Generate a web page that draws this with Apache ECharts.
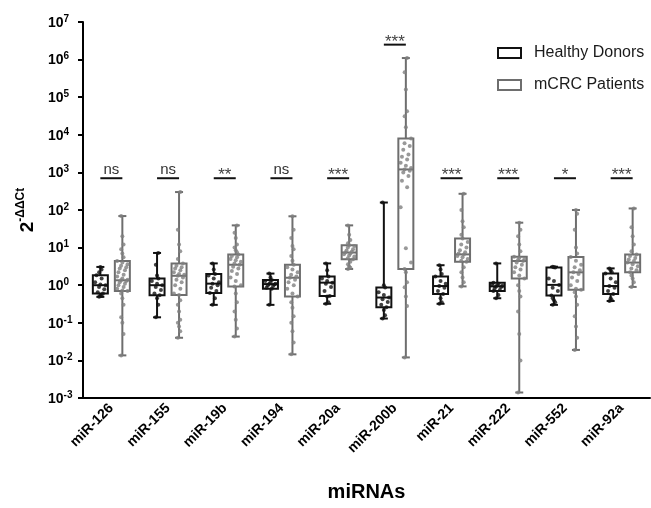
<!DOCTYPE html>
<html>
<head>
<meta charset="utf-8">
<script src="https://cdn.jsdelivr.net/npm/echarts@6/dist/echarts.min.js"></script>
<style>html,body{margin:0;padding:0;background:#fff}#c{width:651px;height:508px}</style>
</head>
<body>
<div id="c"></div>
<script>
const categories = ['miR-126','miR-155','miR-19b','miR-194','miR-20a','miR-200b','miR-21','miR-222','miR-552','miR-92a'];

// box stats per category: [min, Q1, median, Q3, max]
const healthyBox = [
  [0.49, 0.6, 1.0, 1.84, 3.06],
  [0.14, 0.54, 1.0, 1.5, 7.2],
  [0.3, 0.62, 1.1, 2.0, 3.8],
  [0.3, 0.8, 1.07, 1.38, 2.04],
  [0.32, 0.52, 1.17, 1.7, 3.8],
  [0.13, 0.26, 0.47, 0.87, 158],
  [0.32, 0.58, 0.95, 1.7, 3.4],
  [0.45, 0.7, 0.93, 1.17, 3.8],
  [0.3, 0.53, 1.02, 2.95, 3.1],
  [0.38, 0.58, 0.95, 2.04, 2.8]
];
const patientBox = [
  [0.0136, 0.7, 1.35, 4.4, 69],
  [0.04, 0.55, 1.78, 3.8, 300],
  [0.043, 0.93, 3.5, 6.6, 39],
  [0.0145, 0.5, 1.58, 3.5, 68],
  [2.7, 4.9, 7.4, 11.5, 39],
  [0.012, 2.7, 1200, 8000, 1.1e6],
  [0.93, 4.2, 6.6, 17.4, 270],
  [0.0014, 1.5, 4.4, 5.75, 46],
  [0.019, 0.76, 2.2, 5.6, 100],
  [0.9, 2.2, 4.0, 6.6, 110]
];

// individual points
const healthyPoints = [
  [0.49, 0.52, 0.55, 0.6, 0.65, 0.78, 0.9, 1.0, 1.05, 1.2, 1.5, 1.84, 2.2, 2.6, 3.06],
  [0.14, 0.3, 0.45, 0.54, 0.6, 0.75, 0.9, 1.0, 1.1, 1.3, 1.5, 1.8, 3.5, 7.2],
  [0.3, 0.45, 0.62, 0.7, 0.85, 1.0, 1.1, 1.2, 1.5, 1.8, 2.0, 2.6, 3.8],
  [0.3, 0.8, 0.85, 0.95, 1.0, 1.05, 1.07, 1.1, 1.2, 1.3, 1.38, 1.6, 2.04],
  [0.32, 0.35, 0.5, 0.52, 0.7, 0.9, 1.1, 1.17, 1.3, 1.5, 1.7, 2.5, 3.8],
  [0.13, 0.16, 0.22, 0.26, 0.3, 0.36, 0.42, 0.47, 0.55, 0.65, 0.87, 1.0, 158],
  [0.32, 0.35, 0.45, 0.58, 0.7, 0.85, 0.95, 1.1, 1.3, 1.7, 2.0, 2.6, 3.4],
  [0.45, 0.55, 0.7, 0.75, 0.82, 0.9, 0.93, 0.97, 1.0, 1.05, 1.1, 1.17, 3.8],
  [0.3, 0.35, 0.4, 0.45, 0.53, 0.7, 0.85, 1.02, 1.3, 1.5, 2.95, 3.0, 3.1],
  [0.38, 0.4, 0.45, 0.58, 0.7, 0.85, 0.95, 1.2, 1.5, 2.04, 2.2, 2.5, 2.8]
];
const patientPoints = [
  [0.0136, 0.05, 0.1, 0.14, 0.3, 0.45, 0.6, 0.7, 0.72, 0.8, 0.9, 1.0, 1.1, 1.2, 1.3, 1.35, 1.4, 1.5, 1.7, 1.9, 2.2, 2.5, 2.8, 3.0, 3.3, 3.6, 4.0, 4.4, 5.5, 7, 9, 12, 20, 69],
  [0.04, 0.06, 0.08, 0.1, 0.12, 0.2, 0.3, 0.4, 0.55, 0.6, 0.8, 1.0, 1.2, 1.4, 1.6, 1.78, 1.9, 2.0, 2.2, 2.5, 2.8, 3.0, 3.3, 3.8, 5, 8, 12, 30, 300],
  [0.043, 0.07, 0.12, 0.2, 0.35, 0.6, 0.93, 1.0, 1.3, 1.6, 2.0, 2.4, 2.8, 3.1, 3.5, 3.8, 4.2, 4.6, 5.0, 5.5, 6.0, 6.6, 7.5, 8.5, 10, 12, 18, 25, 39],
  [0.0145, 0.03, 0.06, 0.1, 0.15, 0.25, 0.35, 0.5, 0.6, 0.8, 1.0, 1.2, 1.4, 1.58, 1.7, 1.9, 2.2, 2.6, 3.0, 3.5, 4.5, 6, 9, 11, 18, 30, 68],
  [2.7, 2.9, 3.2, 3.6, 4.2, 4.9, 5.2, 5.8, 6.2, 6.7, 7.0, 7.4, 7.8, 8.4, 9.0, 10, 11, 11.5, 13, 16, 22, 39],
  [0.012, 0.28, 0.5, 0.88, 1.2, 2.2, 2.7, 4, 9.6, 118, 400, 600, 800, 1000, 1100, 1200, 1300, 1500, 1800, 2200, 2600, 3000, 4000, 5000, 6000, 8000, 16000, 31000, 42000, 160000, 460000, 1100000],
  [0.93, 1.2, 1.6, 2.2, 3, 4.2, 4.5, 5, 5.5, 6, 6.6, 7, 7.5, 8.5, 10, 12, 14, 17.4, 22, 35, 50, 100, 270],
  [0.0014, 0.01, 0.05, 0.2, 0.5, 0.7, 1.0, 1.5, 1.8, 2.2, 2.6, 3, 3.5, 4.0, 4.4, 4.7, 5.0, 5.3, 5.75, 8, 12, 20, 30, 46],
  [0.019, 0.04, 0.08, 0.15, 0.3, 0.5, 0.65, 0.76, 0.8, 1.0, 1.3, 1.6, 2.0, 2.2, 2.5, 3.0, 3.5, 4.5, 5.6, 7, 10, 30, 80, 100],
  [0.9, 1.2, 1.5, 1.8, 2.2, 2.5, 2.8, 3.2, 3.6, 4.0, 4.4, 4.8, 5.3, 6.0, 6.6, 8, 12, 20, 35, 110]
];

const sigLabels = ['ns','ns','**','ns','***','***','***','***','*','***'];
const sigLevel = [700, 700, 700, 700, 700, 2.5e6, 700, 700, 700, 700];

const FONT = 'Liberation Sans, Arial, sans-serif';
const HC = '#111111', PC = '#6e6e6e';
const OFF_H = -11, OFF_P = 11;

function boxRender(offset, color) {
  return function (params, api) {
    const c = api.value(0);
    const p = k => api.coord([c, api.value(k)]);
    const x = p(1)[0] + offset;
    const yMin = p(1)[1], yQ1 = p(2)[1], yMed = p(3)[1], yQ3 = p(4)[1], yMax = p(5)[1];
    const hw = 7.5, cw = 4;
    const style = { stroke: color, lineWidth: 2, fill: null };
    return { type: 'group', children: [
      { type: 'line', shape: { x1: x, y1: yMin, x2: x, y2: yQ1 }, style },
      { type: 'line', shape: { x1: x, y1: yQ3, x2: x, y2: yMax }, style },
      { type: 'line', shape: { x1: x - cw, y1: yMin, x2: x + cw, y2: yMin }, style },
      { type: 'line', shape: { x1: x - cw, y1: yMax, x2: x + cw, y2: yMax }, style },
      { type: 'rect', shape: { x: x - hw, y: yQ3, width: 2 * hw, height: yQ1 - yQ3 }, style: { stroke: color, lineWidth: 2, fill: '#fff' } },
      { type: 'line', shape: { x1: x - hw, y1: yMed, x2: x + hw, y2: yMed }, style }
    ]};
  };
}

function boxData(stats) {
  return stats.map((s, i) => [i].concat(s));
}

function pointData(pts, stats, offset) {
  const out = [];
  pts.forEach((arr, i) => {
    const q1 = stats[i][1], q3 = stats[i][3];
    arr.forEach((v, k) => {
      let j;
      if (v >= q1 && v <= q3) j = (((k * 5) % 9) - 4) * 1.3;
      else j = (((k * 2) % 3) - 1) * 1.2;
      out.push({ value: [i, v], symbolOffset: [offset + j, 0] });
    });
  });
  return out;
}

const chart = echarts.init(document.getElementById('c'), null, { renderer: 'canvas' });
chart.setOption({
  animation: false,
  backgroundColor: '#fff',
  grid: { left: 83, right: 1, top: 22, bottom: 110 },
  legend: {
    orient: 'vertical', left: 492, top: 40,
    itemWidth: 23, itemHeight: 10, itemGap: 16,
    textStyle: { fontFamily: FONT, fontSize: 16, color: '#1a1a1a', padding: [0, 0, 0, 8] },
    data: [
      { name: 'Healthy Donors', icon: 'rect', itemStyle: { color: '#fff', borderColor: HC, borderWidth: 2 } },
      { name: 'mCRC Patients', icon: 'rect', itemStyle: { color: '#fff', borderColor: PC, borderWidth: 2 } }
    ]
  },
  xAxis: {
    type: 'category', data: categories,
    name: 'miRNAs', nameLocation: 'middle', nameGap: 84,
    nameTextStyle: { fontFamily: FONT, fontSize: 20, fontWeight: 'bold', color: '#000' },
    axisLine: { lineStyle: { color: '#000', width: 2 } },
    axisTick: { alignWithLabel: true, length: 5, lineStyle: { color: '#000', width: 2 } },
    axisLabel: { rotate: 45, margin: 8, fontFamily: FONT, fontSize: 14, fontWeight: 'bold', color: '#000' },
    splitLine: { show: false }
  },
  yAxis: {
    type: 'log', logBase: 10, min: 0.001, max: 1e7, interval: 1, splitNumber: 10,
    name: '{a|2}{b|-ΔΔCt}', nameLocation: 'middle', nameRotate: 90, nameGap: 46,
    nameTextStyle: {
      rich: {
        a: { fontFamily: FONT, fontSize: 19, fontWeight: 'bold', color: '#000', verticalAlign: 'bottom', lineHeight: 22 },
        b: { fontFamily: FONT, fontSize: 12, fontWeight: 'bold', color: '#000', verticalAlign: 'top', lineHeight: 22 }
      }
    },
    axisLine: { show: true, lineStyle: { color: '#000', width: 2 } },
    axisTick: { show: true, length: 5, lineStyle: { color: '#000', width: 2 } },
    minorTick: { show: false },
    splitLine: { show: false },
    axisLabel: {
      align: 'left', margin: 35, hideOverlap: false,
      formatter: function (v) {
        const e = Math.round(Math.log10(v));
        return '{m|10}{s|' + e + '}';
      },
      rich: {
        m: { fontFamily: FONT, fontSize: 14, fontWeight: 'bold', color: '#000', verticalAlign: 'bottom', lineHeight: 16 },
        s: { fontFamily: FONT, fontSize: 10, fontWeight: 'bold', color: '#000', verticalAlign: 'top', lineHeight: 16 }
      }
    }
  },
  series: [
    {
      name: 'Healthy Donors', type: 'custom', z: 2,
      renderItem: boxRender(OFF_H, HC),
      dimensions: ['cat', 'min', 'q1', 'med', 'q3', 'max'],
      encode: { x: 0, y: [1, 2, 3, 4, 5] },
      data: boxData(healthyBox)
    },
    {
      name: 'mCRC Patients', type: 'custom', z: 2,
      renderItem: boxRender(OFF_P, PC),
      dimensions: ['cat', 'min', 'q1', 'med', 'q3', 'max'],
      encode: { x: 0, y: [1, 2, 3, 4, 5] },
      data: boxData(patientBox)
    },
    {
      name: 'Healthy points', type: 'scatter', z: 3, symbolSize: 4,
      itemStyle: { color: HC }, data: pointData(healthyPoints, healthyBox, OFF_H)
    },
    {
      name: 'Patient points', type: 'scatter', z: 3, symbolSize: 4,
      itemStyle: { color: '#808080' }, data: pointData(patientPoints, patientBox, OFF_P)
    },
    {
      name: 'sig', type: 'custom', z: 4,
      data: sigLevel.map((v, i) => [i, v]),
      encode: { x: 0, y: 1 },
      renderItem: function (params, api) {
        const pt = api.coord([api.value(0), api.value(1)]);
        const lab = sigLabels[params.dataIndex];
        const stars = lab.indexOf('*') >= 0;
        return { type: 'group', children: [
          { type: 'line', shape: { x1: pt[0] + OFF_H, y1: pt[1], x2: pt[0] + OFF_P, y2: pt[1] }, style: { stroke: '#111', lineWidth: 2 } },
          { type: 'text', style: {
              x: pt[0], y: stars ? pt[1] + 6 : pt[1] - 1,
              text: lab, align: 'center', verticalAlign: 'bottom',
              fontFamily: FONT, fontSize: stars ? 17 : 15, fill: stars ? '#444' : '#333'
          } }
        ]};
      }
    }
  ]
});
</script>
</body>
</html>
